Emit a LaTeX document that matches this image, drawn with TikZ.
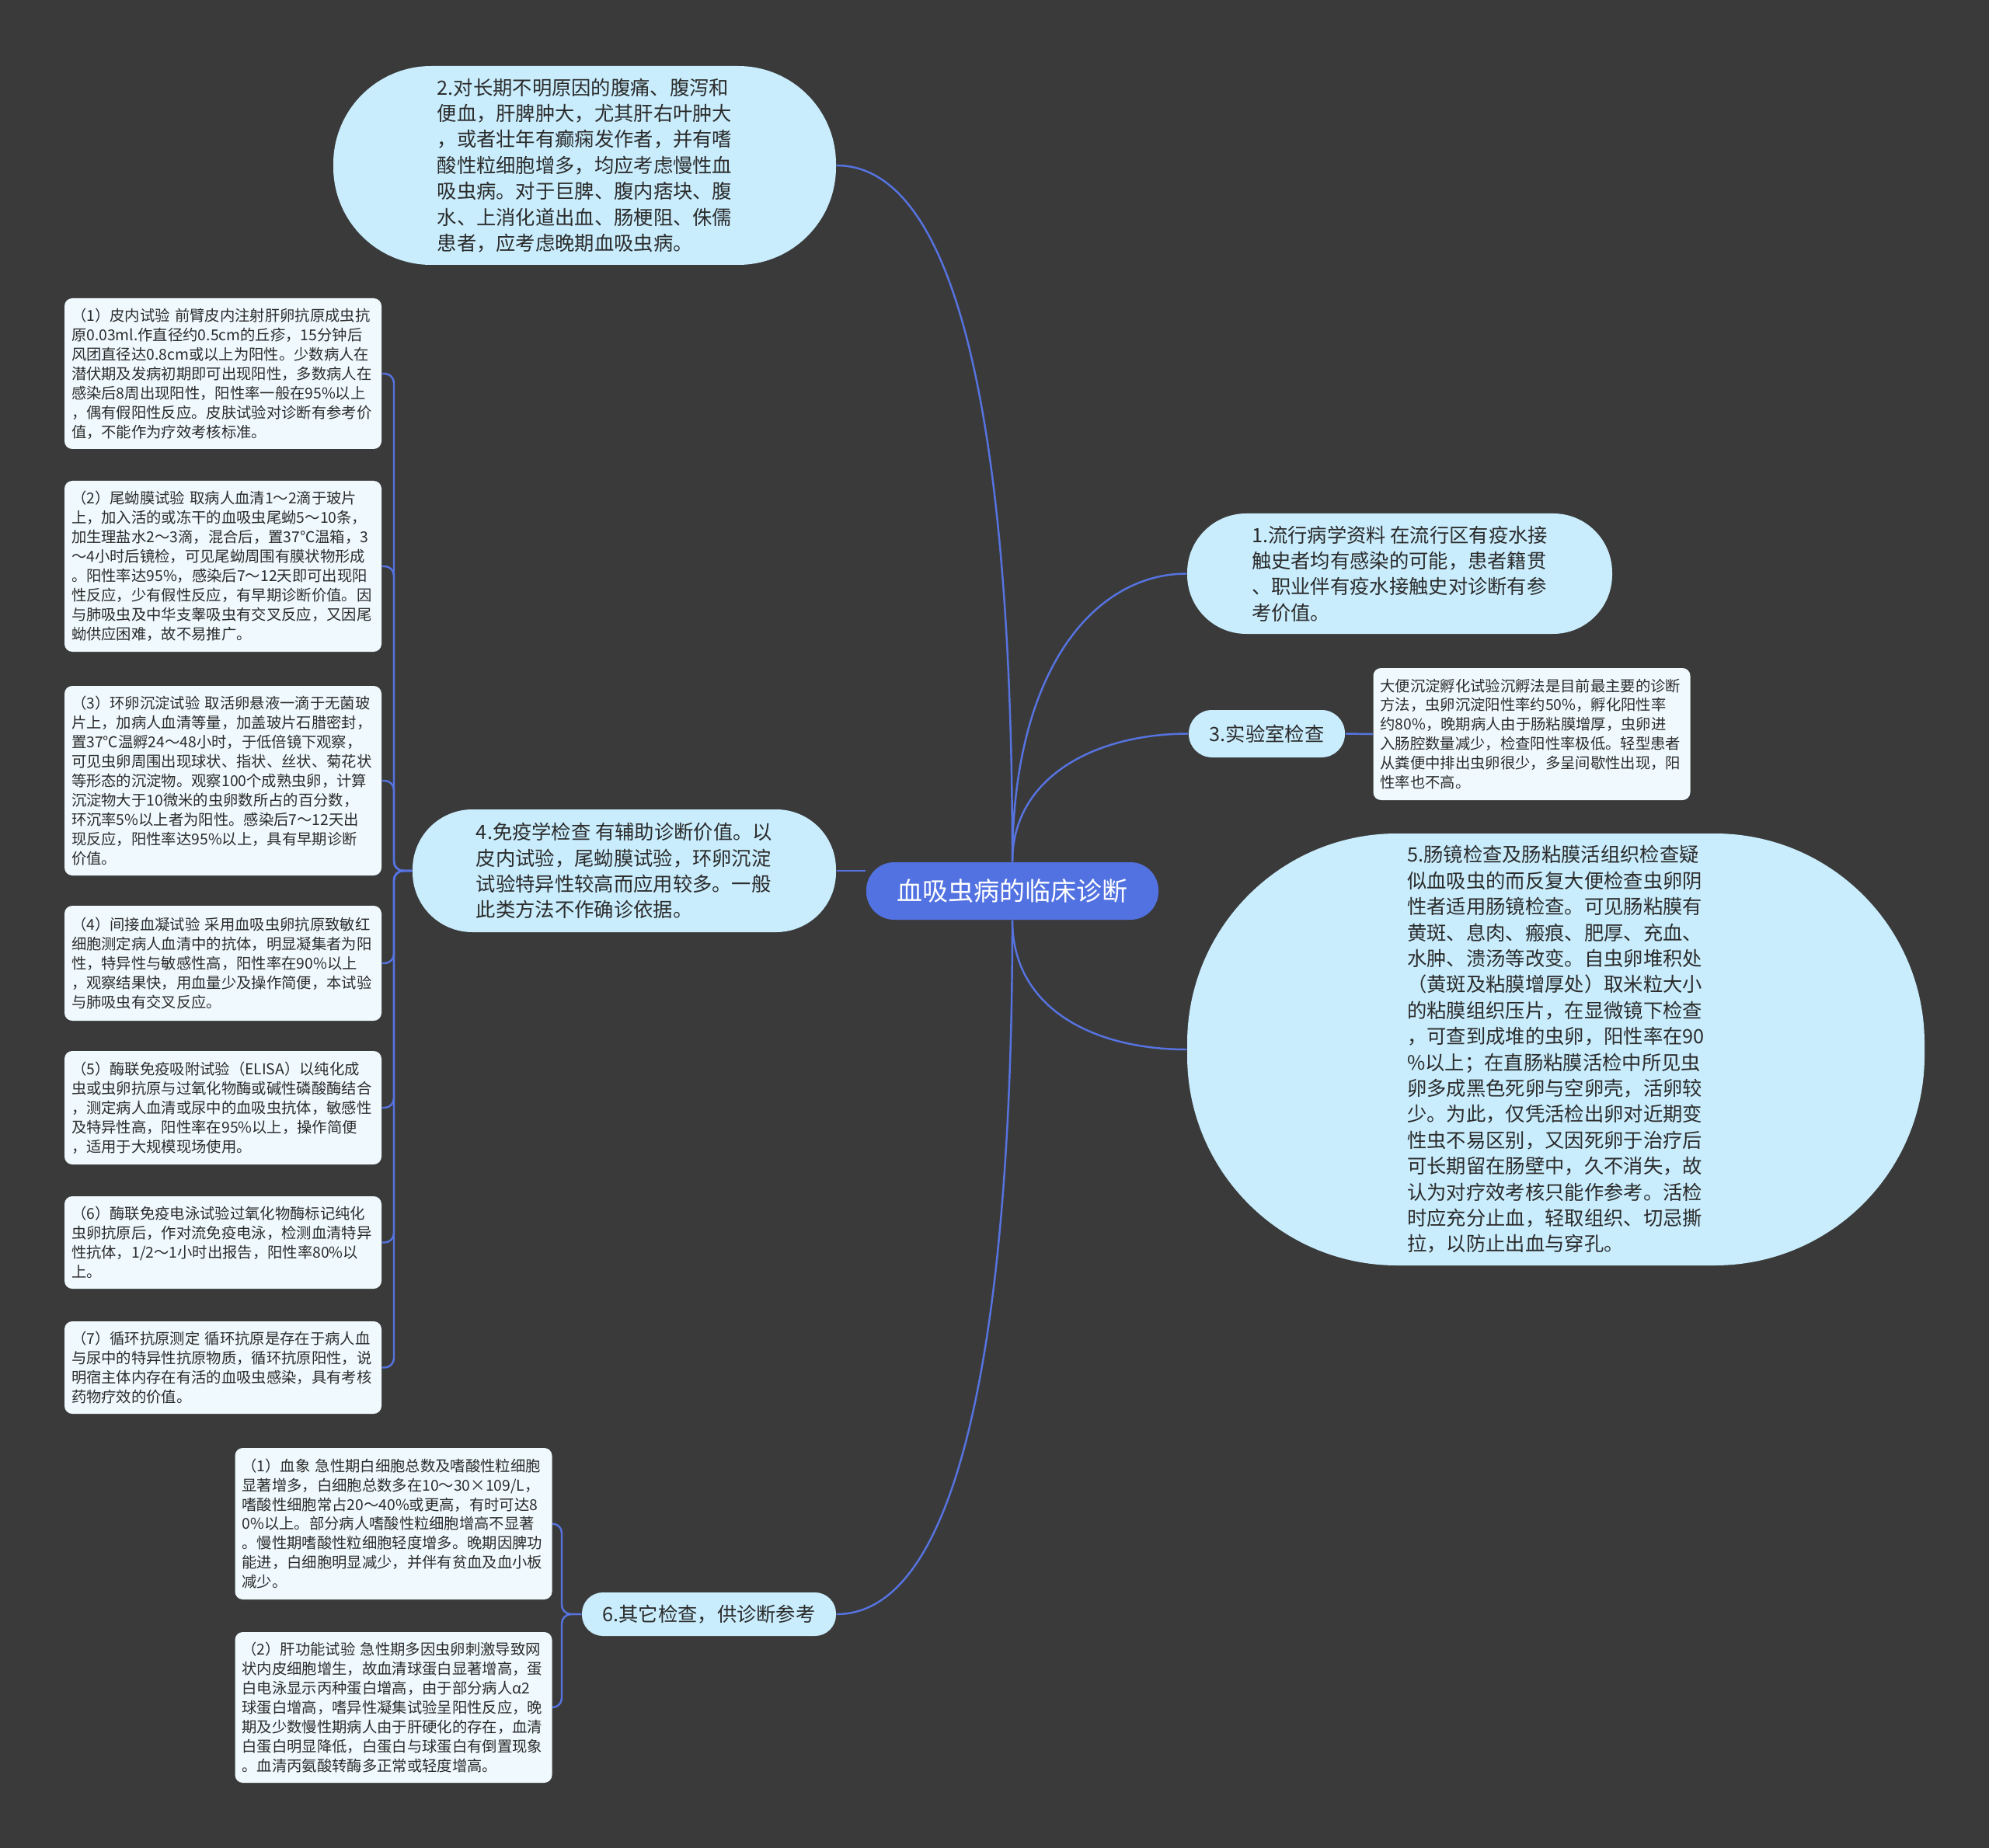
\documentclass[tikz,border=0pt]{standalone}
\usepackage{fontspec}
\setmainfont{Noto Sans CJK SC}
\usetikzlibrary{calc}

\definecolor{bgdark}{HTML}{3A3A3A}
\definecolor{topicblue}{HTML}{C9EDFD}
\definecolor{notewhite}{HTML}{F0FAFE}
\definecolor{linkblue}{HTML}{5673E0}
\definecolor{rootblue}{HTML}{5272E2}
\definecolor{inkdark}{HTML}{2B2B2B}

\tikzset{
	rootbox/.style={fill=rootblue, text=white, rounded corners=0.36cm, minimum width=3.76cm, minimum height=0.74cm, inner sep=0pt, font=\fontsize{9.4}{11}\selectfont},
	topic/.style={fill=topicblue, text=inkdark, align=left, inner sep=0pt, font=\fontsize{7.2}{9.5}\selectfont},
	note/.style={fill=notewhite, text=inkdark, align=left, text width=3.9cm, inner xsep=0.09cm, inner ysep=0pt, rounded corners=0.1cm, font=\fontsize{5.5}{7.1}\selectfont},
	link/.style={draw=linkblue, line width=0.7pt},
}

\begin{document}
\begin{tikzpicture}
		%%%%% START %%%%%
		
		\fill[bgdark] (0, 0) rectangle (25.6, -23.79);
		\useasboundingbox (0, 0) rectangle (25.6, -23.79);
		
		\node[rootbox] (root) at (13.03, -11.47) {血吸虫病的临床诊断};
		
		\node[topic, minimum width=6.47cm, minimum height=2.56cm, rounded corners=1.26cm] (n2) at (7.525, -2.13) {2.对长期不明原因的腹痛、腹泻和\\便血，肝脾肿大，尤其肝右叶肿大\\，或者壮年有癫痫发作者，并有嗜\\酸性粒细胞增多，均应考虑慢性血\\吸虫病。对于巨脾、腹内痞块、腹\\水、上消化道出血、肠梗阻、侏儒\\患者，应考虑晚期血吸虫病。};
		\node[topic, minimum width=5.47cm, minimum height=1.55cm, rounded corners=0.76cm] (n1) at (18.015, -7.385) {1.流行病学资料 在流行区有疫水接\\触史者均有感染的可能，患者籍贯\\、职业伴有疫水接触史对诊断有参\\考价值。};
		\node[topic, minimum width=2.01cm, minimum height=0.61cm, rounded corners=0.3cm] (n3) at (16.305, -9.445) {3.实验室检查};
		\node[note, minimum height=1.7cm] (d3) at (19.715, -9.45) {大便沉淀孵化试验沉孵法是目前最主要的诊断\\方法，虫卵沉淀阳性率约50\%，孵化阳性率\\约80\%，晚期病人由于肠粘膜增厚，虫卵进\\入肠腔数量减少，检查阳性率极低。轻型患者\\从粪便中排出虫卵很少，多呈间歇性出现，阳\\性率也不高。};
		\node[topic, minimum width=9.49cm, minimum height=5.56cm, rounded corners=2.7cm] (n5) at (20.025, -13.51) {5.肠镜检查及肠粘膜活组织检查疑\\似血吸虫的而反复大便检查虫卵阴\\性者适用肠镜检查。可见肠粘膜有\\黄斑、息肉、瘢痕、肥厚、充血、\\水肿、溃汤等改变。自虫卵堆积处\\（黄斑及粘膜增厚处）取米粒大小\\的粘膜组织压片，在显微镜下检查\\，可查到成堆的虫卵，阳性率在90\\\%以上；在直肠粘膜活检中所见虫\\卵多成黑色死卵与空卵壳，活卵较\\少。为此，仅凭活检出卵对近期变\\性虫不易区别，又因死卵于治疗后\\可长期留在肠壁中，久不消失，故\\认为对疗效考核只能作参考。活检\\时应充分止血，轻取组织、切忌撕\\拉，以防止出血与穿孔。};
		\node[topic, minimum width=5.45cm, minimum height=1.58cm, rounded corners=0.77cm] (n4) at (8.035, -11.21) {4.免疫学检查 有辅助诊断价值。以\\皮内试验，尾蚴膜试验，环卵沉淀\\试验特异性较高而应用较多。一般\\此类方法不作确诊依据。};
		\node[topic, minimum width=3.27cm, minimum height=0.56cm, rounded corners=0.27cm] (n6) at (9.125, -20.78) {6.其它检查，供诊断参考};
		
		% immunology leaves
		\node[note, minimum height=1.94cm] (L1) at (2.87, -4.81) {（1）皮内试验~前臂皮内注射肝卵抗原成虫抗\\原0.03ml.作直径约0.5cm的丘疹，15分钟后\\风团直径达0.8cm或以上为阳性。少数病人在\\潜伏期及发病初期即可出现阳性，多数病人在\\感染后8周出现阳性，阳性率一般在95\%以上\\，偶有假阳性反应。皮肤试验对诊断有参考价\\值，不能作为疗效考核标准。};
		\node[note, minimum height=2.2cm] (L2) at (2.87, -7.29) {（2）尾蚴膜试验~取病人血清1～2滴于玻片\\上，加入活的或冻干的血吸虫尾蚴5～10条，\\加生理盐水2～3滴，混合后，置37℃温箱，3\\～4小时后镜检，可见尾蚴周围有膜状物形成\\。阳性率达95\%，感染后7～12天即可出现阳\\性反应，少有假性反应，有早期诊断价值。因\\与肺吸虫及中华支睾吸虫有交叉反应，又因尾\\蚴供应困难，故不易推广。};
		\node[note, minimum height=2.44cm] (L3) at (2.87, -10.05) {（3）环卵沉淀试验~取活卵悬液一滴于无菌玻\\片上，加病人血清等量，加盖玻片石腊密封，\\置37℃温孵24～48小时，于低倍镜下观察，\\可见虫卵周围出现球状、指状、丝状、菊花状\\等形态的沉淀物。观察100个成熟虫卵，计算\\沉淀物大于10微米的虫卵数所占的百分数，\\环沉率5\%以上者为阳性。感染后7～12天出\\现反应，阳性率达95\%以上，具有早期诊断\\价值。};
		\node[note, minimum height=1.48cm] (L4) at (2.87, -12.40) {（4）间接血凝试验~采用血吸虫卵抗原致敏红\\细胞测定病人血清中的抗体，明显凝集者为阳\\性，特异性与敏感性高，阳性率在90\%以上\\，观察结果快，用血量少及操作简便，本试验\\与肺吸虫有交叉反应。};
		\node[note, minimum height=1.46cm] (L5) at (2.87, -14.26) {（5）酶联免疫吸附试验（ELISA）以纯化成\\虫或虫卵抗原与过氧化物酶或碱性磷酸酶结合\\，测定病人血清或尿中的血吸虫抗体，敏感性\\及特异性高，阳性率在95\%以上，操作简便\\，适用于大规模现场使用。};
		\node[note, minimum height=1.19cm] (L6) at (2.87, -15.995) {（6）酶联免疫电泳试验过氧化物酶标记纯化\\虫卵抗原后，作对流免疫电泳，检测血清特异\\性抗体，1/2～1小时出报告，阳性率80\%以\\上。};
		\node[note, minimum height=1.19cm] (L7) at (2.87, -17.605) {（7）循环抗原测定~循环抗原是存在于病人血\\与尿中的特异性抗原物质，循环抗原阳性，说\\明宿主体内存在有活的血吸虫感染，具有考核\\药物疗效的价值。};
		
		% other tests leaves
		\node[note, minimum height=1.95cm] (B1) at (5.065, -19.615) {（1）血象~急性期白细胞总数及嗜酸性粒细胞\\显著增多，白细胞总数多在10～30×109/L，\\嗜酸性细胞常占20～40\%或更高，有时可达8\\0\%以上。部分病人嗜酸性粒细胞增高不显著\\。慢性期嗜酸性粒细胞轻度增多。晚期因脾功\\能进，白细胞明显减少，并伴有贫血及血小板\\减少。};
		\node[note, minimum height=1.94cm] (B2) at (5.065, -21.98) {（2）肝功能试验~急性期多因虫卵刺激导致网\\状内皮细胞增生，故血清球蛋白显著增高，蛋\\白电泳显示丙种蛋白增高，由于部分病人α2\\球蛋白增高，嗜异性凝集试验呈阳性反应，晚\\期及少数慢性期病人由于肝硬化的存在，血清\\白蛋白明显降低，白蛋白与球蛋白有倒置现象\\。血清丙氨酸转酶多正常或轻度增高。};
		
		% branches from the root
		\draw[link] (root.north) .. controls (13.03, -5.0) and (12.2, -2.13) .. (n2.east);
		\draw[link] (root.north) .. controls (13.03, -8.6) and (14.1, -7.385) .. (n1.west);
		\draw[link] (root.north) .. controls (13.03, -10.0) and (14.1, -9.445) .. (n3.west);
		\draw[link] (root.south) .. controls (13.03, -13.0) and (14.1, -13.51) .. (n5.west);
		\draw[link] (root.south) .. controls (13.03, -16.5) and (12.5, -20.78) .. (n6.east);
		\draw[link] (n4.east) -- (n4.east -| root.west);
		\draw[link] (n3.east) -- (d3.west);
		
		% brackets
		\coordinate (b4) at (5.07, -11.21);
		\foreach \leaf in {L1,L2,L3,L4,L5,L6,L7}
			\draw[link, rounded corners=0.12cm] (n4.west) -- (b4) |- (\leaf.east);
		\coordinate (b6) at (7.23, -20.78);
		\foreach \leaf in {B1,B2}
			\draw[link, rounded corners=0.12cm] (n6.west) -- (b6) |- (\leaf.east);
		
		%%%%% END %%%%%
	\end{tikzpicture}
\end{document}
